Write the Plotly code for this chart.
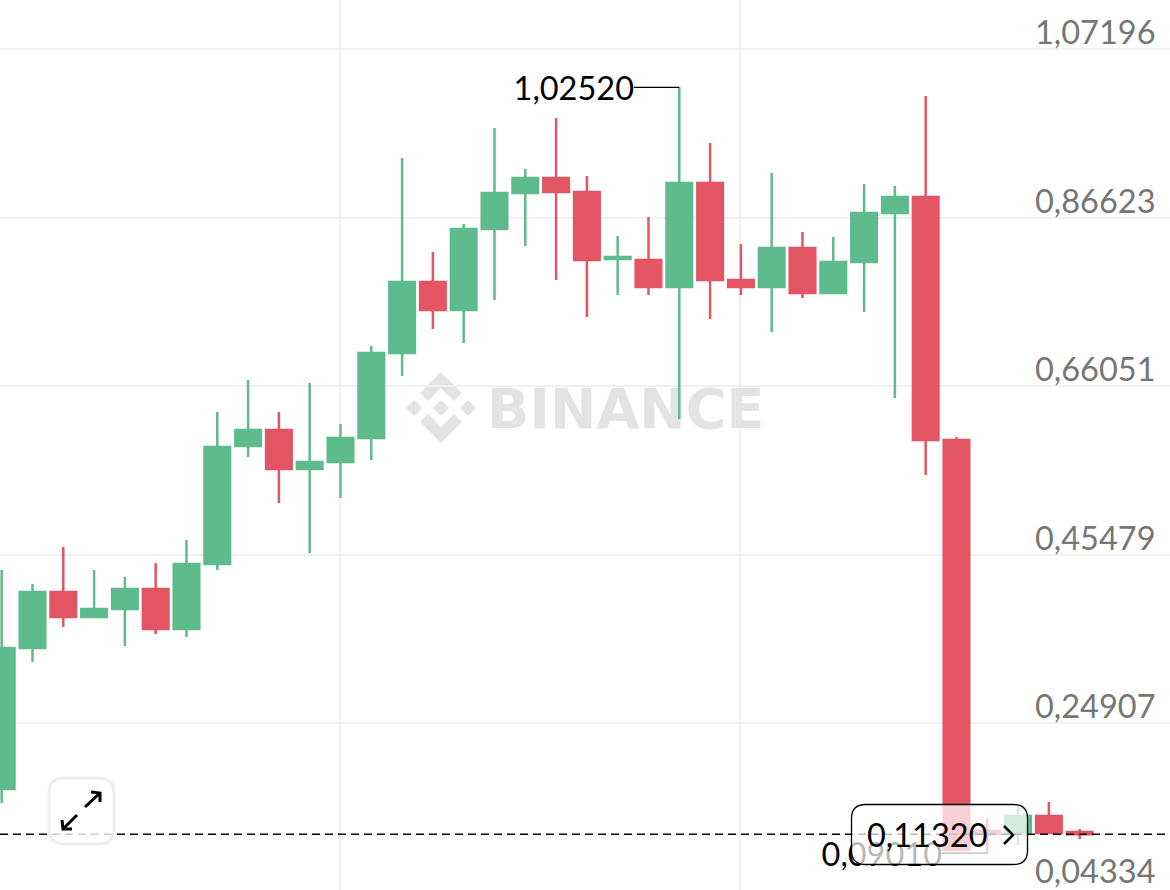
import plotly.graph_objects as go

candle_index = list(range(36))
opens = [.1685,.3406,.4090,.3785,.3883,.4127,.3639,.4432,.5873,.6068,.5592,.5677,.5970,.7008,.7875,.7533,.8522,.8962,.9145,.8974,.8156,.8144,.7814,.9084,.7899,.7814,.8290,.7741,.8119,.8717,.8913,.5946,.1172,.1136,.1355,.1160]
highs = [.4359,.4188,.4640,.4359,.4273,.4444,.4725,.6288,.6679,.6288,.6642,.6141,.7094,.9389,.8241,.8583,.9755,.9255,.9877,.9169,.8437,.8669,1.0252,.9572,.8339,.9206,.8486,.8424,.9072,.9047,1.0146,.5983,.1331,.1490,.1526,.1197]
lows = [.1514,.3236,.3663,.3785,.3431,.3577,.3541,.4359,.5738,.5177,.4566,.5238,.5702,.6727,.7301,.7130,.7655,.8315,.7899,.7448,.7716,.7716,.6202,.7423,.7716,.7265,.7680,.7741,.7509,.6459,.5519,.0940,.0901,.1001,.1136,.1075]
closes = [.3406,.4090,.3785,.3883,.4127,.3639,.4432,.5861,.6068,.5592,.5677,.5970,.7008,.7875,.7533,.8522,.8962,.9145,.8974,.8144,.8180,.7814,.9084,.7899,.7814,.8290,.7741,.8119,.8717,.8913,.5946,.0940,.1136,.1355,.1148,.1132]

price_ticks = [1.07196, 0.86623, 0.66051, 0.45479, 0.24907, 0.04334]
price_labels = ["1,07196", "0,86623", "0,66051", "0,45479", "0,24907", "0,04334"]
time_ticks = [11, 24]
last_price = 0.1132
last_label = "0,11320"
high_price, high_label, high_index = 1.0252, "1,02520", 22
low_price, low_label, low_index = 0.0901, "0,09010", 32

W, H = 1170, 890
GREEN, RED = "#5EBB8B", "#E45563"
FONT = "Lato"
FS = 32.5
x_range = [-0.0325, 37.955]
candle_x_range = [-0.055, 37.932]
y_range = [0.04518, 1.13178]

def px(x, y):
    return f"{x / W:.5f},{1 - y / H:.5f}"

def round_rect(x0, y0, x1, y1, r):
    return (f"M{px(x0 + r, y0)} L{px(x1 - r, y0)} Q{px(x1, y0)} {px(x1, y0 + r)} "
            f"L{px(x1, y1 - r)} Q{px(x1, y1)} {px(x1 - r, y1)} L{px(x0 + r, y1)} "
            f"Q{px(x0, y1)} {px(x0, y1 - r)} L{px(x0, y0 + r)} Q{px(x0, y0)} {px(x0 + r, y0)} Z")

def poly(points):
    return "M" + " L".join(px(a, b) for a, b in points)

fig = go.Figure()

# off-range box: makes plotly honour layout.boxgap for the candles
fig.add_trace(go.Box(x=[-5], y=[-5], xaxis="x", yaxis="y", showlegend=False, hoverinfo="skip"))

# watermark on the base subplot, under the candles
fig.add_trace(go.Scatter(x=[15.78], y=[0.626], mode="text", text=["BINANCE"], textposition="middle right",
                         textfont=dict(family="DejaVu Sans", size=55.5, color="#E3E3E3", weight=700),
                         xaxis="x", yaxis="y", hoverinfo="skip", showlegend=False, cliponaxis=False))

fig.add_trace(go.Candlestick(x=candle_index, open=opens, high=highs, low=lows, close=closes,
                             increasing=dict(line=dict(color=GREEN, width=2.5), fillcolor=GREEN),
                             decreasing=dict(line=dict(color=RED, width=2.5), fillcolor=RED),
                             whiskerwidth=0, xaxis="x2", yaxis="y2", showlegend=False))

label_font = dict(family=FONT, size=FS, color="#000")
for price, label, index, drop in [(high_price, high_label, high_index, 0.0062),
                                  (low_price, low_label, low_index, 0.0061)]:
    fig.add_trace(go.Scatter(x=[index - 1.47, index], y=[price, price], mode="lines",
                             line=dict(color="#000", width=1.3), xaxis="x2", yaxis="y2",
                             showlegend=False, hoverinfo="skip"))
    fig.add_trace(go.Scatter(x=[index - 1.47], y=[price - drop], mode="text", text=[label],
                             textposition="middle left", textfont=label_font, xaxis="x2", yaxis="y2",
                             showlegend=False, hoverinfo="skip", cliponaxis=False))

grid = "#F0F0F0"
axis_common = dict(showline=False, zeroline=False, ticks="", showticklabels=False)
fig.update_layout(
    width=W, height=H, margin=dict(l=0, r=0, t=0, b=0), paper_bgcolor="#fff", plot_bgcolor="rgba(0,0,0,0)",
    boxgap=0.17, boxgroupgap=0, showlegend=False, dragmode=False,
    xaxis=dict(range=x_range, tickvals=time_ticks, showgrid=True, gridcolor=grid, gridwidth=1.5, **axis_common),
    yaxis=dict(range=y_range, tickvals=price_ticks, showgrid=True, gridcolor=grid, gridwidth=1.5, **axis_common),
    xaxis2=dict(range=candle_x_range, overlaying="x", showgrid=False, rangeslider=dict(visible=False), **axis_common),
    yaxis2=dict(range=y_range, overlaying="y", showgrid=False, **axis_common),
)

shapes = []
# Binance logo
for d in [
    [(441, 372), (462, 393), (454, 401), (441, 388), (428, 401), (420, 393)],
    [(441, 443), (462, 422), (454, 414), (441, 427), (428, 414), (420, 422)],
    [(441, 400), (449, 408), (441, 416), (433, 408)],
    [(414, 400), (422, 408), (414, 416), (406, 408)],
    [(468, 400), (476, 408), (468, 416), (460, 408)],
]:
    shapes.append(dict(type="path", path=poly(d) + " Z", xref="paper", yref="paper", layer="below",
                       fillcolor="#E3E3E3", line=dict(width=0)))

# current price line
shapes.append(dict(type="line", xref="paper", yref="y2", x0=0, x1=1166 / W, y0=last_price, y1=last_price,
                   layer="above", line=dict(color="#000", width=1.5, dash="8px,5px")))
# price box
shapes.append(dict(type="path", path=round_rect(851.5, 804.5, 1027.5, 864.5, 14), xref="paper", yref="paper",
                   layer="above", fillcolor="rgba(255,255,255,0.72)", line=dict(color="#000", width=1.3)))
shapes.append(dict(type="path", path=poly([(1004, 826), (1013, 835), (1004, 844)]), xref="paper", yref="paper",
                   layer="above", line=dict(color="#000", width=2.5)))
# expand button
shapes.append(dict(type="path", path=round_rect(49, 778, 114, 844, 15), xref="paper", yref="paper",
                   layer="above", fillcolor="rgba(255,255,255,0.8)", line=dict(color="#EEEEEE", width=3)))
for d in [
    [(85, 807), (100, 793)], [(91, 792), (100, 793), (100, 802)],
    [(77, 815), (63, 829)], [(62, 820), (63, 829), (72, 829)],
]:
    shapes.append(dict(type="path", path=poly(d), xref="paper", yref="paper", layer="above",
                       line=dict(color="#000", width=3)))
fig.update_layout(shapes=shapes)

# price labels, sitting above their grid lines
for value, label in zip(price_ticks, price_labels):
    clamped = value < y_range[0]
    fig.add_annotation(x=1155.5 / W, xref="paper", xanchor="right", y=y_range[0] + 0.0001 if clamped else value,
                       yref="y", yanchor="bottom", yshift=-1 if clamped else -3, text=label, showarrow=False,
                       font=dict(family=FONT, size=FS, color="#767676"), borderpad=0)

fig.add_annotation(x=927 / W, y=1 - 834 / H, xref="paper", yref="paper", xanchor="center", yanchor="middle",
                   text=last_label, showarrow=False, font=dict(family=FONT, size=FS, color="#000"))

fig.write_html("out.html", post_script="document.body.style.margin='0';document.body.style.overflow='hidden';",
               config=dict(displayModeBar=False))
